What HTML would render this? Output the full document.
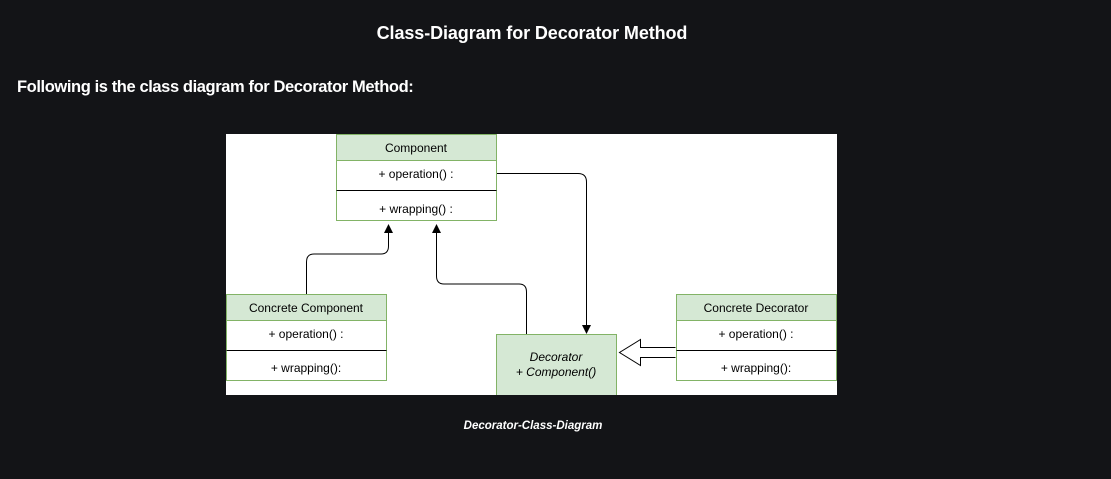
<!DOCTYPE html>
<html><head><meta charset="utf-8"><style>
body{margin:0;width:1111px;height:479px;background:#131417;overflow:hidden;font-family:"Liberation Sans",sans-serif;position:relative}
.t{position:absolute;color:#fff;font-weight:bold}
</style></head><body>
<div class="t" style="left:0;width:1064px;top:23px;text-align:center;font-size:18px;letter-spacing:-0.1px">Class-Diagram for Decorator Method</div>
<div class="t" style="left:17px;top:78px;font-size:16.5px;letter-spacing:-0.4px">Following is the class diagram for Decorator Method:</div>
<svg style="position:absolute;left:226px;top:134px" width="611" height="261" viewBox="226 134 611 261" font-family="Liberation Sans, sans-serif" font-size="12">
<rect x="226" y="134" width="611" height="261" fill="#fff"/>
<rect x="336.5" y="134.5" width="160" height="26" fill="#d5e8d4" stroke="#82b366"/>
<rect x="336.5" y="160.5" width="160" height="60" fill="#fff" stroke="#82b366"/>
<line x1="336.5" y1="190.5" x2="496.5" y2="190.5" stroke="#000"/>
<text x="416" y="152" text-anchor="middle">Component</text>
<text x="416" y="178" text-anchor="middle">+ operation() :</text>
<text x="416" y="213" text-anchor="middle">+ wrapping() :</text>
<rect x="226.5" y="294.5" width="160" height="26" fill="#d5e8d4" stroke="#82b366"/>
<rect x="226.5" y="320.5" width="160" height="60" fill="#fff" stroke="#82b366"/>
<line x1="226.5" y1="350.5" x2="386.5" y2="350.5" stroke="#000"/>
<text x="306" y="312" text-anchor="middle">Concrete Component</text>
<text x="306" y="338" text-anchor="middle">+ operation() :</text>
<text x="306" y="372" text-anchor="middle">+ wrapping():</text>
<rect x="676.5" y="294.5" width="160" height="26" fill="#d5e8d4" stroke="#82b366"/>
<rect x="676.5" y="320.5" width="160" height="60" fill="#fff" stroke="#82b366"/>
<line x1="676.5" y1="350.5" x2="836.5" y2="350.5" stroke="#000"/>
<text x="756" y="312" text-anchor="middle">Concrete Decorator</text>
<text x="756" y="338" text-anchor="middle">+ operation() :</text>
<text x="756" y="372" text-anchor="middle">+ wrapping():</text>
<rect x="496.5" y="334.5" width="120" height="62" fill="#d5e8d4" stroke="#82b366"/>
<text x="556" y="361" text-anchor="middle" font-style="italic">Decorator</text>
<text x="556" y="376" text-anchor="middle" font-style="italic">+ Component()</text>
<path d="M306.5 294 V262 Q306.5 254 314 254 H381 Q388.5 254 388.5 246 V230" fill="none" stroke="#000"/>
<path d="M388.5 224 L384 233 L393 233z"/>
<path d="M526.5 334 V292 Q526.5 284 519 284 H444 Q436.5 284 436.5 276 V230" fill="none" stroke="#000"/>
<path d="M436.5 224 L432 233 L441 233z"/>
<path d="M497 173.5 H578 Q586.5 173.5 586.5 182 V327" fill="none" stroke="#000"/>
<path d="M586.5 334 L582 325 L591 325z"/>
<path d="M675.5 347.5 H640.5 V339.5 L619.5 352.5 L640.5 365.5 V357.5 H675.5" fill="#fff" stroke="#000"/>
</svg>
<div class="t" style="left:0;width:1066px;top:420px;text-align:center;font-size:11.5px;font-style:italic">Decorator-Class-Diagram</div>
</body></html>
